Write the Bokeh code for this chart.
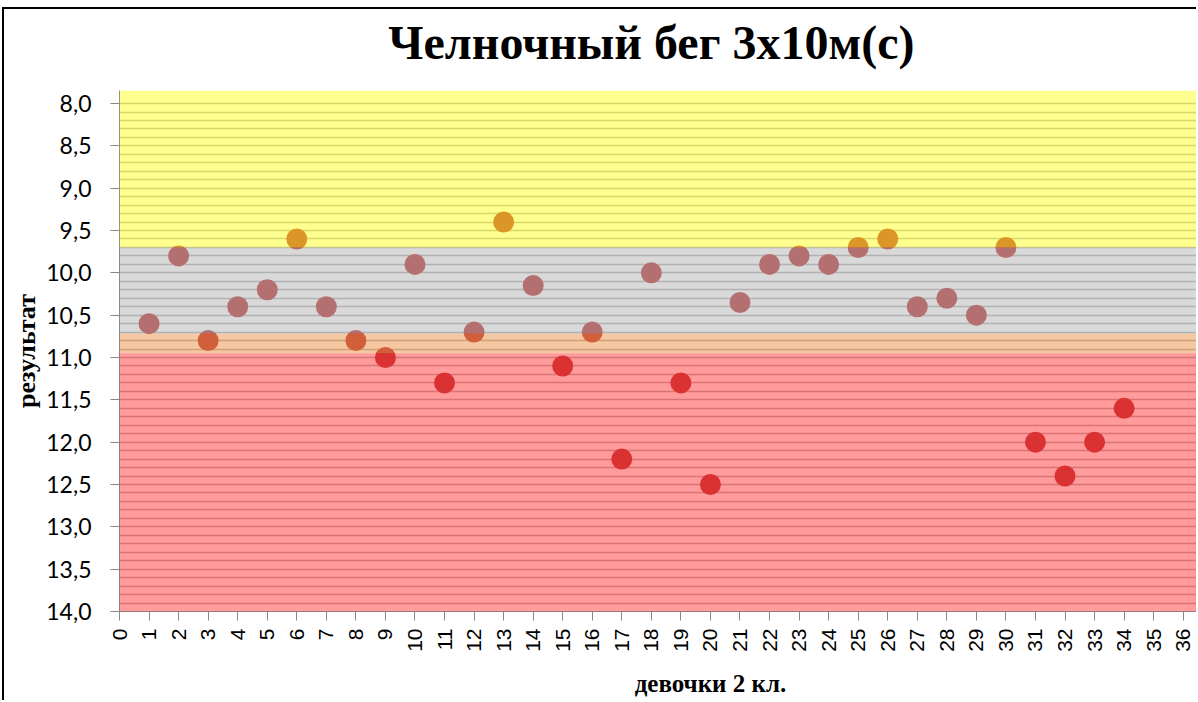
import math
from bokeh.plotting import figure
from bokeh.layouts import column
from bokeh.models import Range1d, FixedTicker, BoxAnnotation
from bokeh.core.properties import value
from bokeh.embed import file_html
from bokeh.resources import INLINE

# ---- data ----
girls = list(range(1, 35))
times = [10.6, 9.8, 10.8, 10.4, 10.2, 9.6, 10.4, 10.8, 11.0, 9.9,
         11.3, 10.7, 9.4, 10.15, 11.1, 10.7, 12.2, 10.0, 11.3, 12.5,
         10.35, 9.9, 9.8, 9.9, 9.7, 9.6, 10.4, 10.3, 10.5, 9.7,
         12.0, 12.4, 12.0, 11.6]

y_ticks = [8.0, 8.5, 9.0, 9.5, 10.0, 10.5, 11.0, 11.5, 12.0, 12.5, 13.0, 13.5, 14.0]
y_tick_labels = ["8,0", "8,5", "9,0", "9,5", "10,0", "10,5", "11,0", "11,5",
                 "12,0", "12,5", "13,0", "13,5", "14,0"]
x_ticks = list(range(0, 37))

# zones (top, bottom) in result units; None = extends to plot edge
band_tops = [None, 9.7, 10.72, 10.95]
band_bottoms = [9.7, 10.72, 10.95, None]
band_colors = ["#FFFF1F", "#B3B3B3", "#ED9145", "#FF3737"]

title_text = "Челночный бег 3х10м(с)"
x_title = "девочки 2 кл."
y_title = "результат"

W = 1192
X_RANGE = (0, 36.45)


def text_strip(height, txt, xpos, ypix, size):
    f = figure(width=W, height=height, output_backend="svg", toolbar_location=None,
               x_range=Range1d(*X_RANGE), y_range=Range1d(0, height),
               x_axis_type=None, y_axis_type=None, title=None,
               min_border_left=115, min_border_right=0,
               min_border_top=0, min_border_bottom=0)
    f.outline_line_color = None
    f.xgrid.visible = False
    f.ygrid.visible = False
    f.text(x=[xpos], y=[ypix], text=[txt], text_align="center",
           text_baseline="middle", text_font=value("Liberation Serif"),
           text_font_style=value("bold"), text_font_size=value(size),
           text_color="#000000")
    return f


# title centred over x = 18 of the axis scale, x-label over x = 20
title_fig = text_strip(81, title_text, 18.0, 81 - 33, "48px")
xlab_fig = text_strip(33, x_title, 20.0, 33 - 16, "25px")

# ---- main figure ----
p = figure(width=W, height=577, output_backend="svg", toolbar_location=None,
           title=None,
           x_range=Range1d(*X_RANGE), y_range=Range1d(14.0, 7.846),
           min_border_left=115, min_border_right=0, min_border_top=0,
           min_border_bottom=56)
p.outline_line_color = None
p.background_fill_color = "white"
p.border_fill_color = "white"

# grid every 0.1
p.xgrid.visible = False
p.ygrid.ticker = FixedTicker(ticks=[round(8.0 + 0.1 * i, 1) for i in range(61)])
p.ygrid.grid_line_color = "#B0B0B0"
p.ygrid.grid_line_width = 1.5

# points (drawn below the translucent zone bands)
p.scatter(girls, times, size=21, fill_color="#B52D2D", line_color=None)

for t, b, c in zip(band_tops, band_bottoms, band_colors):
    p.add_layout(BoxAnnotation(top=t, bottom=b, fill_color=c, fill_alpha=0.5,
                               line_color=None))

# axes
ya = p.yaxis[0]
ya.ticker = FixedTicker(ticks=y_ticks)
ya.major_label_overrides = {v: s for v, s in zip(y_ticks, y_tick_labels)}
ya.major_label_text_font = "Lato"
ya.major_label_text_font_size = "23px"
ya.major_label_text_color = "#000000"
ya.major_label_standoff = 19
ya.major_tick_out = 9
ya.major_tick_in = 0
ya.minor_tick_out = 0
ya.minor_tick_in = 0
ya.axis_line_color = "#868686"
ya.major_tick_line_color = "#868686"
ya.axis_label = y_title
ya.axis_label_text_font = "Liberation Serif"
ya.axis_label_text_font_style = "bold"
ya.axis_label_text_font_size = "26px"
ya.axis_label_text_color = "#000000"
ya.axis_label_standoff = 2

xa = p.xaxis[0]
xa.ticker = FixedTicker(ticks=x_ticks)
xa.major_label_orientation = math.pi / 2
xa.major_label_text_font = "Liberation Sans"
xa.major_label_text_font_size = "21px"
xa.major_label_text_color = "#000000"
xa.major_label_standoff = 8
xa.major_tick_out = 9
xa.major_tick_in = 0
xa.minor_tick_out = 0
xa.minor_tick_in = 0
xa.axis_line_color = "#868686"
xa.major_tick_line_color = "#868686"

layout = column(title_fig, p, xlab_fig, spacing=0)
layout.styles = {"margin-left": "2px", "margin-top": "7px",
                 "border-left": "2px solid #000", "border-top": "2px solid #000"}

open("out.html", "w").write(file_html(layout, INLINE))
